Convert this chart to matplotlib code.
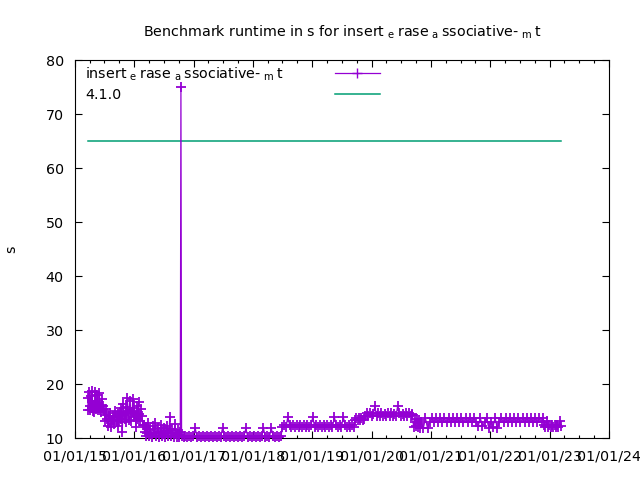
import matplotlib
matplotlib.use("Agg")
import matplotlib.pyplot as plt
import matplotlib.dates as mdates
import pandas as pd

# ---------------- data ----------------
series_label = ("insert$\\;{}_{\\mathregular{e}}\\:$rase$\\;{}_{\\mathregular{a}}\\:$"
                "ssociative-$\\;{}_{\\mathregular{m}}\\:$t")
version_label = "4.1.0"
version_runtime = 65.0

dates_2015a = ["2015-03-20", "2015-03-24", "2015-03-28", "2015-04-01", "2015-04-05", "2015-04-09",
               "2015-04-13", "2015-04-17", "2015-04-21", "2015-04-25", "2015-04-29", "2015-05-03",
               "2015-05-07", "2015-05-11", "2015-05-15", "2015-05-19", "2015-05-23", "2015-05-27",
               "2015-05-31", "2015-06-04", "2015-06-08", "2015-06-12", "2015-06-16", "2015-06-20",
               "2015-06-24", "2015-06-28"]
runtime_2015a = [17.5, 15.2, 18.6, 16.0, 15.1, 17.8, 15.6, 18.7, 15.0, 16.2, 14.9, 16.8, 18.5,
                 15.3, 16.4, 17.9, 15.1, 15.8, 18.4, 15.2, 16.1, 14.8, 17.2, 15.4, 16.0, 15.0]

dates_2015b = ["2015-07-02", "2015-07-07", "2015-07-12", "2015-07-17", "2015-07-22", "2015-07-27",
               "2015-08-01", "2015-08-06", "2015-08-11", "2015-08-16", "2015-08-21", "2015-08-26",
               "2015-08-31", "2015-09-05", "2015-09-10", "2015-09-15", "2015-09-20", "2015-09-25",
               "2015-09-29"]
runtime_2015b = [14.2, 13.1, 15.3, 13.5, 12.2, 14.0, 13.2, 14.6, 12.0, 13.4, 14.1, 12.6, 13.3,
                 15.0, 13.8, 13.0, 12.3, 14.4, 13.2]

dates_2015c = ["2015-10-04", "2015-10-09", "2015-10-14", "2015-10-19", "2015-10-24", "2015-10-29",
               "2015-11-03", "2015-11-08", "2015-11-13", "2015-11-18", "2015-11-23", "2015-11-28",
               "2015-12-03", "2015-12-08", "2015-12-13", "2015-12-18", "2015-12-23", "2015-12-28",
               "2016-01-02", "2016-01-07", "2016-01-12", "2016-01-17", "2016-01-22", "2016-01-27",
               "2016-02-01", "2016-02-06", "2016-02-11", "2016-02-16", "2016-02-22"]
runtime_2015c = [14.8, 13.6, 15.5, 11.1, 16.3, 14.2, 13.5, 15.8, 13.0, 17.5, 14.6, 13.4, 16.9,
                 15.2, 13.1, 14.9, 17.2, 13.8, 15.6, 14.3, 12.1, 15.9, 13.6, 16.6, 14.5, 13.2,
                 15.4, 14.0, 12.4]

dates_2016 = ["2016-02-27", "2016-03-04", "2016-03-10", "2016-03-16", "2016-03-22", "2016-03-28",
              "2016-04-03", "2016-04-09", "2016-04-15", "2016-04-21", "2016-04-27", "2016-05-03",
              "2016-05-09", "2016-05-15", "2016-05-21", "2016-05-27", "2016-06-02", "2016-06-08",
              "2016-06-14", "2016-06-20", "2016-06-26", "2016-07-02", "2016-07-08", "2016-07-14",
              "2016-07-20", "2016-07-26", "2016-08-01", "2016-08-07", "2016-08-13", "2016-08-19",
              "2016-08-25", "2016-08-31", "2016-09-06", "2016-09-12", "2016-09-18", "2016-09-24",
              "2016-09-30", "2016-10-05", "2016-10-10", "2016-10-14"]
runtime_2016 = [12.5, 11.2, 12.1, 10.4, 11.0, 12.8, 10.3, 11.6, 10.8, 10.2, 12.2, 11.0, 12.8,
                10.3, 10.9, 11.8, 10.2, 11.1, 12.4, 10.3, 10.8, 11.9, 10.2, 11.3, 12.3, 10.4,
                11.0, 13.9, 10.3, 11.7, 10.9, 10.2, 12.6, 10.8, 10.2, 11.5, 10.6, 10.2, 11.2,
                75.0]

dates_2017 = ["2016-10-18", "2016-10-30", "2016-11-11", "2016-11-23", "2016-12-05", "2016-12-17",
              "2016-12-29", "2017-01-10", "2017-01-22", "2017-02-03", "2017-02-15", "2017-02-27",
              "2017-03-11", "2017-03-23", "2017-04-04", "2017-04-16", "2017-04-28", "2017-05-10",
              "2017-05-22", "2017-06-03", "2017-06-15", "2017-06-27", "2017-07-09", "2017-07-21",
              "2017-08-02", "2017-08-14", "2017-08-26", "2017-09-07", "2017-09-19", "2017-10-01",
              "2017-10-13", "2017-10-25", "2017-11-06", "2017-11-18", "2017-11-30", "2017-12-12",
              "2017-12-24", "2018-01-05", "2018-01-17", "2018-01-29", "2018-02-10", "2018-02-22",
              "2018-03-06", "2018-03-18", "2018-03-30", "2018-04-11", "2018-04-23", "2018-05-05",
              "2018-05-17", "2018-05-29", "2018-06-10", "2018-06-22"]
runtime_2017 = [10.35, 10.1, 10.35, 10.1, 10.35, 10.1, 10.35, 11.8, 10.1, 10.35, 10.1, 10.35, 10.1,
                10.35, 10.1, 10.35, 10.1, 10.35, 10.1, 10.35, 10.1, 11.8, 10.35, 10.1, 10.35, 10.1,
                10.35, 10.1, 10.35, 10.1, 10.35, 10.1, 10.35, 11.8, 10.1, 10.35, 10.1, 10.35, 10.1,
                10.35, 10.1, 10.35, 11.8, 10.1, 10.35, 10.1, 11.8, 10.35, 10.1, 10.35, 10.1, 10.35]

dates_2018 = ["2018-07-01", "2018-07-12", "2018-07-23", "2018-08-03", "2018-08-14", "2018-08-25",
              "2018-09-05", "2018-09-16", "2018-09-27", "2018-10-08", "2018-10-19", "2018-10-30",
              "2018-11-10", "2018-11-21", "2018-12-02", "2018-12-13", "2018-12-24", "2019-01-04",
              "2019-01-15", "2019-01-26", "2019-02-06", "2019-02-17", "2019-02-28", "2019-03-11",
              "2019-03-22", "2019-04-02", "2019-04-13", "2019-04-24", "2019-05-05", "2019-05-16",
              "2019-05-27", "2019-06-07", "2019-06-18", "2019-06-29", "2019-07-10", "2019-07-21",
              "2019-08-01", "2019-08-12", "2019-08-23", "2019-09-03", "2019-09-14"]
runtime_2018 = [12.0, 12.5, 12.0, 13.9, 12.5, 12.0, 12.5, 12.0, 12.5, 12.0, 12.5, 12.0, 12.5,
                12.0, 12.5, 12.0, 12.5, 13.9, 12.0, 12.5, 12.0, 12.5, 12.0, 12.5, 12.0, 12.5,
                12.0, 12.5, 12.0, 13.9, 12.5, 12.0, 12.5, 12.0, 13.9, 12.5, 12.0, 12.5, 12.0,
                12.5, 12.0]

dates_2019 = ["2019-09-20", "2019-09-28", "2019-10-06", "2019-10-14", "2019-10-22", "2019-10-30",
              "2019-11-07", "2019-11-15", "2019-11-22", "2019-12-02", "2019-12-12", "2019-12-22",
              "2020-01-01", "2020-01-11", "2020-01-21", "2020-01-31", "2020-02-10", "2020-02-20",
              "2020-03-01", "2020-03-11", "2020-03-21", "2020-03-31", "2020-04-10", "2020-04-20",
              "2020-04-30", "2020-05-10", "2020-05-20", "2020-05-30", "2020-06-09", "2020-06-19",
              "2020-06-29", "2020-07-09", "2020-07-19", "2020-07-29", "2020-08-08", "2020-08-18",
              "2020-08-28", "2020-09-05"]
runtime_2019 = [13.3, 13.7, 13.3, 13.7, 13.4, 13.7, 13.3, 13.6, 14.0, 14.6, 14.1, 14.6, 14.0,
                14.5, 15.9, 14.0, 14.6, 14.1, 14.6, 14.0, 14.5, 14.1, 14.6, 14.0, 14.6, 14.1,
                14.5, 14.0, 15.9, 14.6, 14.0, 14.5, 14.1, 14.6, 14.0, 14.6, 14.1, 14.5]

dates_2020 = ["2020-09-08", "2020-09-15", "2020-09-22", "2020-09-29", "2020-10-06", "2020-10-13",
              "2020-10-20", "2020-10-27", "2020-11-01", "2020-11-14", "2020-11-27", "2020-12-10",
              "2020-12-23", "2021-01-05", "2021-01-18", "2021-01-31", "2021-02-13", "2021-02-26",
              "2021-03-11", "2021-03-24", "2021-04-06", "2021-04-19", "2021-05-02", "2021-05-15",
              "2021-05-28", "2021-06-10", "2021-06-23", "2021-07-06", "2021-07-19", "2021-08-01",
              "2021-08-14", "2021-08-27", "2021-09-09", "2021-09-22", "2021-10-05", "2021-10-18",
              "2021-10-31", "2021-11-13", "2021-11-26", "2021-12-09", "2021-12-22"]
runtime_2020 = [14.2, 12.1, 13.0, 12.2, 13.6, 12.0, 13.3, 11.8, 12.9, 11.8, 13.7, 11.8, 12.9,
                13.7, 12.9, 13.7, 12.9, 13.7, 12.9, 13.7, 12.9, 13.7, 12.9, 13.7, 12.9, 13.7,
                12.9, 13.7, 12.9, 13.7, 12.9, 13.7, 12.9, 13.7, 12.9, 12.2, 13.7, 12.2, 12.9,
                13.7, 11.8]

dates_2022 = ["2022-01-04", "2022-01-17", "2022-01-30", "2022-02-12", "2022-02-25", "2022-03-10",
              "2022-03-23", "2022-04-05", "2022-04-18", "2022-05-01", "2022-05-14", "2022-05-27",
              "2022-06-09", "2022-06-22", "2022-07-05", "2022-07-18", "2022-07-31", "2022-08-13",
              "2022-08-26", "2022-09-08", "2022-09-21", "2022-10-04", "2022-10-17", "2022-10-30",
              "2022-11-12", "2022-11-22", "2022-11-28", "2022-12-06", "2022-12-14", "2022-12-22",
              "2022-12-30", "2023-01-07", "2023-01-15", "2023-01-23", "2023-01-31", "2023-02-08",
              "2023-02-16", "2023-02-24", "2023-03-04", "2023-03-10"]
runtime_2022 = [12.9, 12.1, 13.7, 11.8, 12.9, 13.7, 12.9, 13.7, 12.9, 13.7, 12.9, 13.7, 12.9,
                13.7, 12.9, 13.7, 12.9, 13.7, 12.9, 13.7, 12.9, 13.7, 12.9, 13.7, 12.9, 13.7,
                12.5, 12.0, 13.2, 12.0, 12.5, 12.0, 12.5, 12.0, 12.5, 12.0, 12.5, 12.0, 13.2,
                12.2]

# ---------------- assemble ----------------
date_groups = [dates_2015a, dates_2015b, dates_2015c, dates_2016, dates_2017,
               dates_2018, dates_2019, dates_2020, dates_2022]
value_groups = [runtime_2015a, runtime_2015b, runtime_2015c, runtime_2016, runtime_2017,
                runtime_2018, runtime_2019, runtime_2020, runtime_2022]
dates, values = [], []
for dg, vg in zip(date_groups, value_groups, strict=True):
    for d, v in zip(dg, vg, strict=True):
        dates.append(pd.Timestamp(d))
        values.append(v)

# ---------------- figure ----------------
plt.rcParams["font.family"] = ["DejaVu Sans"]
plt.rcParams["mathtext.fontset"] = "dejavusans"

purple = "#9400d3"
green = "#009e73"

fig = plt.figure(figsize=(6.4, 4.8), dpi=100)
ax = fig.add_axes([75 / 640, 42 / 480, 534 / 640, 378 / 480])

ax.plot(dates, values, color=purple, lw=0.9, marker="+", ms=7.5, mew=1.3,
        clip_on=False, zorder=3)
ax.plot([dates[0], dates[-1]], [version_runtime, version_runtime], color=green,
        lw=1.1, zorder=2)

ax.set_xlim(pd.Timestamp("2015-01-01"), pd.Timestamp("2024-01-01"))
ax.set_ylim(10, 80)
ax.set_yticks(range(10, 81, 10))
ax.xaxis.set_major_locator(mdates.YearLocator())
ax.xaxis.set_minor_locator(mdates.MonthLocator(bymonth=[4, 7, 10]))
ax.xaxis.set_major_formatter(mdates.DateFormatter("%m/%d/%y"))

ax.tick_params(which="both", direction="in", top=True, right=True, width=0.8,
               colors="black", labelsize=10.3)
ax.tick_params(which="major", length=5, pad=8)
ax.tick_params(which="minor", length=2.5)
for sp in ax.spines.values():
    sp.set_linewidth(0.8)

ax.set_ylabel("s", fontsize=10.3)
ax.yaxis.set_label_coords(-0.106, 0.5)
ax.set_title("Benchmark runtime in s for " + series_label, fontsize=10.3, pad=17)

# gnuplot-style key (text left, sample right)
ax.text(0.019, 0.962, series_label, transform=ax.transAxes, fontsize=10.3,
        ha="left", va="center")
ax.text(0.019, 0.908, version_label, transform=ax.transAxes, fontsize=10.3,
        ha="left", va="center")
ax.plot([0.487, 0.571], [0.966, 0.966], transform=ax.transAxes, color=purple, lw=0.9)
ax.plot([0.529], [0.966], transform=ax.transAxes, color=purple, marker="+", ms=7.5, mew=1.0)
ax.plot([0.487, 0.571], [0.910, 0.910], transform=ax.transAxes, color=green, lw=1.1)

fig.savefig("out.png", dpi=100)
